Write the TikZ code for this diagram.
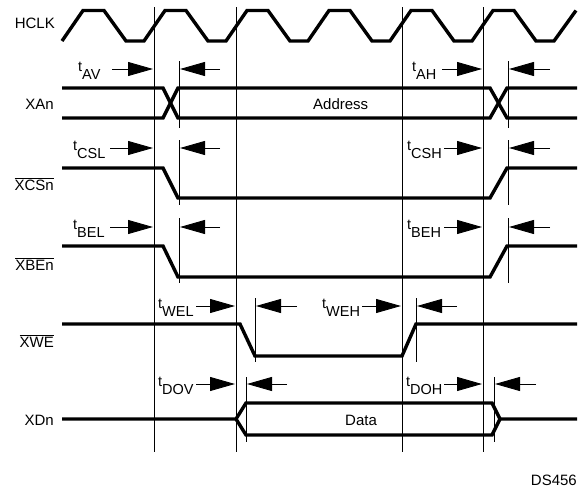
\documentclass[tikz,border=0pt]{standalone}
\usepackage{fontspec}
\setmainfont{Liberation Sans}
\usetikzlibrary{arrows.meta}
\newcommand{\tlab}[1]{t\raisebox{-8pt}{#1}}
\newcommand{\ovl}[1]{$\overline{\mbox{#1}}$}
\tikzset{
  sigline/.style={line width=3.4pt, line join=miter},
  guideline/.style={line width=0.8pt},
  markline/.style={line width=0.8pt},
  tarrow/.style={line width=0.9pt, -{Triangle[length=25pt,width=14pt]}},
  signame/.style={anchor=base east, inner sep=0pt, font=\fontsize{15}{17}\selectfont},
  tlabel/.style={anchor=base west, inner sep=0pt, font=\fontsize{14.5}{17}\selectfont},
  txtlabel/.style={anchor=base west, inner sep=0pt, font=\fontsize{15}{17}\selectfont}
}
\begin{document}
\begin{tikzpicture}[x=1pt,y=-1pt]
\useasboundingbox (0,0) rectangle (578,493);
\fill[white] (0,0) rectangle (578,493);

% signal names
\node[signame] (nclk) at (55,28) {HCLK};
\node[signame] (nxa) at (54,109) {XAn};
\node[signame] (nxcs) at (54,190) {\ovl{XCSn}};
\node[signame] (nxbe) at (54,270) {\ovl{XBEn}};
\node[signame] (nxwe) at (54,347) {\ovl{XWE}};
\node[signame] (nxd) at (54,425) {XDn};

% clock
\draw[sigline] (62,41)
  -- (83,10.5) -- (104,10.5) -- (126,41) -- (144,41)
  -- (165,10.5) -- (186,10.5) -- (208,41) -- (226,41)
  -- (247,10.5) -- (268,10.5) -- (290,41) -- (308,41)
  -- (329,10.5) -- (350,10.5) -- (372,41) -- (390,41)
  -- (411,10.5) -- (432,10.5) -- (454,41) -- (472,41)
  -- (493,10.5) -- (514,10.5) -- (536,41) -- (554,41)
  -- (576,10.5);

% guide lines
\foreach \gx/\gn in {154/ga,236/gb,402/gc,483/gd}{
  \coordinate (\gn t) at (\gx,7);
  \coordinate (\gn b) at (\gx,452);
  \draw[guideline] (\gn t) -- (\gn b);
}

% XAn
\draw[sigline] (62,88) -- (163,88) -- (178,118) -- (490,118) -- (507,88) -- (577,88);
\draw[sigline] (62,118) -- (163,118) -- (178,88) -- (490,88) -- (507,118) -- (577,118);
\node[txtlabel] (addr) at (313,109) {Address};

% XCSn
\draw[sigline] (62,168) -- (163,168) -- (178,198) -- (490,198) -- (507,168) -- (577,168);
% XBEn
\draw[sigline] (62,246) -- (163,246) -- (178,277) -- (490,277) -- (507,246) -- (577,246);
% XWE
\draw[sigline] (62,324) -- (240,324) -- (255,356) -- (402,356) -- (416,324) -- (577,324);
% XDn
\draw[sigline] (62,419) -- (236,419) -- (246,403) -- (492,403) -- (500,419) -- (577,419);
\draw[sigline] (236,419) -- (246,435) -- (492,435) -- (500,419);
\node[txtlabel] (data) at (345,425) {Data};

% marker lines
\draw[markline] (179,61) -- (179,128);
\draw[markline] (508,61) -- (508,128);
\draw[markline] (179,140) -- (179,205);
\draw[markline] (508,140) -- (508,205);
\draw[markline] (179,218) -- (179,283);
\draw[markline] (508,218) -- (508,283);
\draw[markline] (255,298) -- (255,362);
\draw[markline] (416,298) -- (416,362);
\draw[markline] (246,377) -- (246,442);
\draw[markline] (494,377) -- (494,442);

% timing labels and arrows
\node[tlabel] (tav) at (78,71) {\tlab{AV}};
\draw[tarrow] (112,69) -- (153,69);
\draw[tarrow] (220,69) -- (180,69);
\node[tlabel] (tah) at (412,71) {\tlab{AH}};
\draw[tarrow] (442,69) -- (482,69);
\draw[tarrow] (550,69) -- (509,69);

\node[tlabel] (tcsl) at (73,150) {\tlab{CSL}};
\draw[tarrow] (110,148) -- (153,148);
\draw[tarrow] (220,148) -- (180,148);
\node[tlabel] (tcsh) at (407,150) {\tlab{CSH}};
\draw[tarrow] (444,148) -- (482,148);
\draw[tarrow] (550,148) -- (509,148);

\node[tlabel] (tbel) at (73,229) {\tlab{BEL}};
\draw[tarrow] (110,227) -- (153,227);
\draw[tarrow] (220,227) -- (180,227);
\node[tlabel] (tbeh) at (407,229) {\tlab{BEH}};
\draw[tarrow] (444,227) -- (482,227);
\draw[tarrow] (550,227) -- (509,227);

\node[tlabel] (twel) at (158,308) {\tlab{WEL}};
\draw[tarrow] (196,306) -- (235,306);
\draw[tarrow] (297,306) -- (256,306);
\node[tlabel] (tweh) at (322,308) {\tlab{WEH}};
\draw[tarrow] (362,306) -- (401,306);
\draw[tarrow] (457,306) -- (417,306);

\node[tlabel] (tdov) at (158,386) {\tlab{DOV}};
\draw[tarrow] (196,384) -- (235,384);
\draw[tarrow] (287,384) -- (247,384);
\node[tlabel] (tdoh) at (406,386) {\tlab{DOH}};
\draw[tarrow] (444,384) -- (482,384);
\draw[tarrow] (536,384) -- (495,384);

\node[signame] (ds) at (577,485) {DS456};
\end{tikzpicture}
\end{document}
